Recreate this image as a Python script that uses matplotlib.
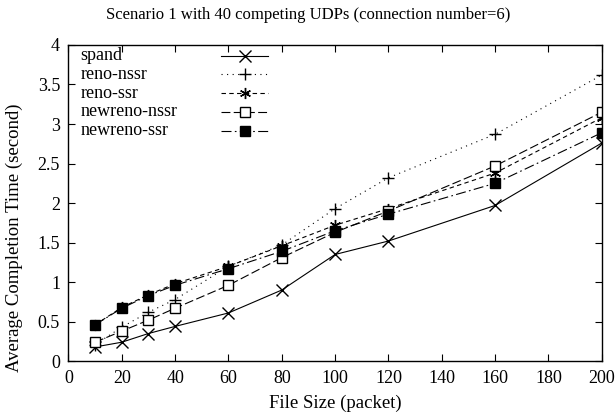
import numpy as np
import matplotlib
matplotlib.use("Agg")
import matplotlib.pyplot as plt
from matplotlib.ticker import FuncFormatter, MultipleLocator

plt.rcParams['font.family'] = ['Liberation Serif', 'DejaVu Serif']

# File size (packets) and average completion time (seconds)
file_size = [10, 20, 30, 40, 60, 80, 100, 120, 160, 200]
spand = [0.18, 0.24, 0.35, 0.44, 0.61, 0.90, 1.35, 1.52, 1.97, 2.76]
reno_nssr = [0.21, 0.43, 0.62, 0.78, 1.20, 1.47, 1.93, 2.32, 2.87, 3.62]
reno_ssr = [0.46, 0.68, 0.84, 0.98, 1.20, 1.46, 1.72, 1.93, 2.38, 3.08]
newreno_nssr = [0.24, 0.38, 0.52, 0.67, 0.96, 1.31, 1.63, 1.90, 2.47, 3.15]
newreno_ssr = [0.46, 0.67, 0.83, 0.96, 1.17, 1.39, 1.65, 1.86, 2.25, 2.89]

series = [
    ("spand", spand, dict(linestyle='-', marker='x', ms=8, mfc='black')),
    ("reno-nssr", reno_nssr, dict(linestyle=(0, (1, 4)), marker='+', ms=9, mfc='black')),
    ("reno-ssr", reno_ssr, dict(linestyle=(0, (4, 3)), marker=(6, 2, 0), ms=8, mfc='black')),
    ("newreno-nssr", newreno_nssr, dict(linestyle=(0, (8, 3)), marker='s', ms=7, mfc='white')),
    ("newreno-ssr", newreno_ssr, dict(linestyle=(0, (9, 3, 1.5, 3)), marker='s', ms=7, mfc='black')),
]

fig = plt.figure(figsize=(6.16, 4.2), dpi=100)
ax = fig.add_axes([0.111, 0.140, 0.866, 0.753])

for label, vals, st in series:
    ax.plot(file_size, vals, color='black', linewidth=0.8, mec='black', mew=1.0, **st)

# gnuplot-style key: text on the left, line sample on the right
y0, dy = 0.966, 0.0593
for i, (label, vals, st) in enumerate(series):
    y = y0 - i * dy
    ax.text(0.023, y, label, transform=ax.transAxes, va='center', ha='left', fontsize=13)
    ax.plot([0.287, 0.331, 0.375], [y, y, y], transform=ax.transAxes, color='black',
            linewidth=0.8, mec='black', mew=1.0, markevery=[1], clip_on=False, **st)

ax.set_xlim(0, 200)
ax.set_ylim(0, 4)
ax.xaxis.set_major_locator(MultipleLocator(20))
ax.yaxis.set_major_locator(MultipleLocator(0.5))
ax.yaxis.set_major_formatter(FuncFormatter(lambda v, p: "%g" % v))
ax.tick_params(direction='in', top=True, right=True, length=5, labelsize=13, width=0.8, pad=6)
for s in ax.spines.values():
    s.set_linewidth(1.0)

fig.text(0.5, 0.965, "Scenario 1 with 40 competing UDPs (connection number=6)",
         fontsize=12, ha='center', va='center')
ax.set_xlabel("File Size (packet)", fontsize=13.5, labelpad=6)
ax.set_ylabel("Average Completion Time (second)", fontsize=13.5, labelpad=6)
ax.yaxis.set_label_coords(-0.085, 0.39)

fig.savefig("out.png", dpi=100)
